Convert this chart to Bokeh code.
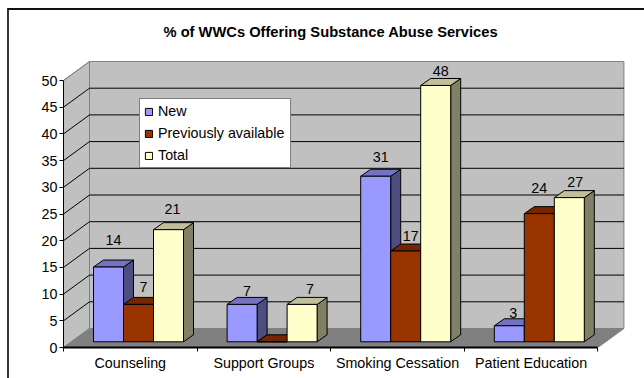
from bokeh.embed import file_html
from bokeh.models import FixedTicker, InlineStyleSheet, Legend, LegendItem, Range1d
from bokeh.plotting import figure
from bokeh.resources import INLINE
from bokeh.core.properties import value
import numpy as np

# Survey results per service category
categories = ["Counseling", "Support Groups", "Smoking Cessation", "Patient Education"]
new_services = [14, 7, 31, 3]
previously_available = [7, 0, 17, 24]
total_services = [21, 7, 48, 27]
series_names = ["New", "Previously available", "Total"]
value_ticks = [0, 5, 10, 15, 20, 25, 30, 35, 40, 45, 50]
chart_title = "% of WWCs Offering Substance Abuse Services"

FONT = "Liberation Sans"
TEXT_SIZE = "14.3px"
PX_X = 133.6   # pixels per category
PX_Y = 5.34    # pixels per percentage point

# Oblique projection of the 3D box, in data units
WALL_DX, WALL_DY = 26 / PX_X, 19 / PX_Y
BAR_DX, BAR_DY = 10 / PX_X, 7 / PX_Y
BAR_W = 30 / PX_X
BAR_START = 30 / PX_X
BAR_BASE = 5.7 / PX_Y

FRONT = ["#9999FF", "#993300", "#FFFFCC"]
TOP = ["#7373BF", "#732600", "#BFBF99"]
SIDE = ["#4D4D80", "#4D1A00", "#808066"]

# Chart-area frame: only its top and left edges fall on the page
frame_css = InlineStyleSheet(css="""
:host::after {
  content: "";
  position: absolute;
  left: 7px; top: 8px; right: 0; bottom: 0;
  border-left: 2px solid #333333;
  border-top: 2px solid #111111;
  pointer-events: none;
}
""")

p = figure(width=644, height=378, output_backend="svg", toolbar_location=None,
           min_border_left=63, min_border_right=0, min_border_top=45, min_border_bottom=31,
           x_range=Range1d(0, 581 / PX_X), y_range=Range1d(0, 302 / PX_Y),
           title=chart_title, stylesheets=[frame_css])
p.background_fill_color = None
p.border_fill_color = "white"
p.outline_line_color = None
p.grid.visible = False

p.title.align = "left"
p.title.offset = 100
p.title.standoff = 12
p.title.text_font = FONT
p.title.text_font_size = "14.7px"
p.title.text_font_style = "bold"
p.title.text_color = "black"

# Walls and floor
x_end = len(categories)
top_val = value_ticks[-1]
p.patch([0, WALL_DX, WALL_DX, 0], [0, WALL_DY, top_val + WALL_DY, top_val],
        fill_color="#C0C0C0", line_color="#808080")
p.patch([WALL_DX, x_end + WALL_DX, x_end + WALL_DX, WALL_DX],
        [WALL_DY, WALL_DY, top_val + WALL_DY, top_val + WALL_DY],
        fill_color="#C0C0C0", line_color="#808080")
p.patch([0, x_end, x_end + WALL_DX, WALL_DX], [0, 0, WALL_DY, WALL_DY],
        fill_color="#808080", line_color="#808080")

# Gridlines run along the side wall, then the back wall
grid_vals = value_ticks[1:-1]
p.multi_line([[0, WALL_DX, x_end + WALL_DX] for _ in grid_vals],
             [[v, v + WALL_DY, v + WALL_DY] for v in grid_vals],
             line_color="#000000", line_width=1)
p.line([0, WALL_DX], [top_val, top_val + WALL_DY], line_color="#808080")

# Bars, series by series so that later ones cover the earlier side faces
all_series = [new_services, previously_available, total_services]
legend_items = []
for s, vals in enumerate(all_series):
    vals = np.asarray(vals, dtype=float)
    left = np.arange(len(categories)) + BAR_START + s * BAR_W
    right = left + BAR_W
    top = vals + BAR_BASE
    p.patches([[r, r + BAR_DX, r + BAR_DX, r] for r in right],
              [[BAR_BASE, BAR_BASE + BAR_DY, t + BAR_DY, t] for t in top],
              fill_color=SIDE[s], line_color="black")
    p.patches([[l, l + BAR_DX, r + BAR_DX, r] for l, r in zip(left, right)],
              [[t, t + BAR_DY, t + BAR_DY, t] for t in top],
              fill_color=TOP[s], line_color="black")
    front = p.quad(left=left, right=right, bottom=BAR_BASE, top=top,
                   fill_color=FRONT[s], line_color="black")
    legend_items.append(LegendItem(label=series_names[s], renderers=[front]))

# Value labels sit above each bar's top face; nudges are in pixels
label_lift = [[20, 6, 12, 6], [10, 0, 8, 19], [14, 8, 7, 9]]
label_shift = [[0, 0, 0, -1], [0, 0, 0, -5], [-1, 3, 0, 1]]
for s, vals in enumerate(all_series):
    for c, v in enumerate(vals):
        if v == 0:
            continue
        p.text([c + BAR_START + (s + 0.5) * BAR_W + BAR_DX / 2], [v + BAR_BASE + BAR_DY],
               text=[str(v)], text_font=value(FONT), text_font_size=TEXT_SIZE, text_color="black",
               text_align="center", text_baseline="middle",
               x_offset=label_shift[s][c], y_offset=-label_lift[s][c])

# Axes
ax_y = p.yaxis[0]
ax_y.ticker = FixedTicker(ticks=value_ticks)
ax_y.bounds = (0, top_val)
ax_y.axis_line_color = "black"
ax_y.major_tick_line_color = "black"
ax_y.major_tick_in = 0
ax_y.major_tick_out = 4
ax_y.minor_tick_line_color = None
ax_y.major_label_text_font = FONT
ax_y.major_label_text_font_size = TEXT_SIZE
ax_y.major_label_text_color = "black"
ax_y.major_label_standoff = 2

ax_x = p.xaxis[0]
centers = [i + 0.5 for i in range(len(categories))]
ax_x.ticker = FixedTicker(ticks=centers, minor_ticks=list(range(len(categories) + 1)))
ax_x.major_label_overrides = {c: n for c, n in zip(centers, categories)}
ax_x.bounds = (0, x_end)
ax_x.axis_line_color = "black"
ax_x.axis_line_width = 2
ax_x.major_tick_line_color = None
ax_x.major_tick_in = 0
ax_x.major_tick_out = 0
ax_x.minor_tick_line_color = "black"
ax_x.minor_tick_in = 0
ax_x.minor_tick_out = 4
ax_x.major_label_text_font = FONT
ax_x.major_label_text_font_size = TEXT_SIZE
ax_x.major_label_text_color = "black"
ax_x.major_label_standoff = 3

legend = Legend(items=legend_items, location=(76, 179), orientation="vertical",
                margin=0, padding=4, spacing=6, glyph_width=9, glyph_height=9,
                label_standoff=5, label_width=128, label_text_font=FONT,
                label_text_font_size=TEXT_SIZE, label_text_color="black",
                border_line_color="black", background_fill_color="white",
                background_fill_alpha=1)
p.add_layout(legend)

open("out.html", "w").write(file_html(p, INLINE))
